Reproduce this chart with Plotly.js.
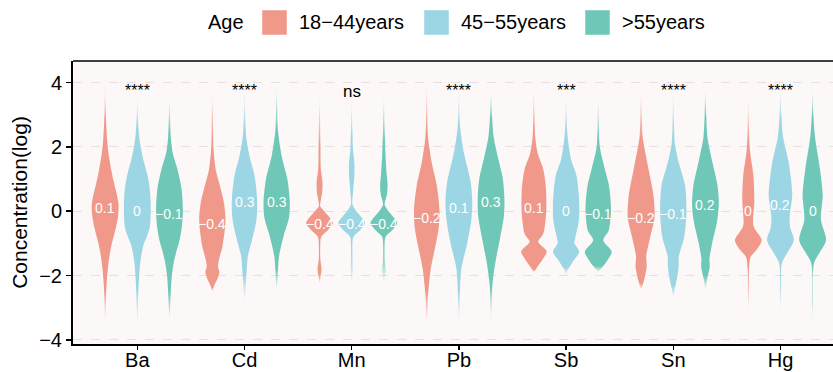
<!DOCTYPE html>
<html><head><meta charset="utf-8">
<script src="https://cdn.plot.ly/plotly-3.0.1.min.js"></script>
<style>html,body{margin:0;padding:0;background:#fff;overflow:hidden;} #chart{width:833px;height:372px;}</style>
</head><body><div id="chart"></div>
<script>
const metals = ['Ba','Cd','Mn','Pb','Sb','Sn','Hg'];
const groups = ['18−44years','45−55years','>55years'];
const signif = ['****','****','ns','****','***','****','****'];
const median1844 = [0.1,-0.4,-0.4,-0.2,0.1,-0.2,0];
const median4555 = [0,0.3,-0.4,0.1,0,-0.1,0.2];
const median55   = [-0.1,0.3,-0.4,0.3,-0.1,0.2,0];

// density profiles per metal: [18-44, 45-55, >55], each a list of [log concentration, relative width]
const densBa = [
  [[4.0,0],[3.3,0.03],[2.8,0.07],[2.2,0.15],[1.8,0.25],[1.3,0.45],[0.9,0.65],[0.5,0.88],[0.2,1.0],[-0.2,0.95],[-0.6,0.75],[-1.0,0.5],[-1.4,0.32],[-1.8,0.2],[-2.3,0.1],[-2.8,0.05],[-3.5,0]],
  [[3.6,0],[3.0,0.04],[2.4,0.12],[2.0,0.25],[1.6,0.45],[1.3,0.65],[1.0,0.82],[0.5,0.97],[0,1.0],[-0.5,0.93],[-0.8,0.7],[-1.0,0.5],[-1.3,0.33],[-1.6,0.22],[-2.0,0.14],[-2.5,0.08],[-3.0,0.04],[-3.7,0]],
  [[3.5,0],[3.0,0.04],[2.3,0.1],[1.8,0.25],[1.3,0.6],[0.7,0.9],[0,1.0],[-0.5,0.92],[-0.9,0.75],[-1.2,0.55],[-1.6,0.32],[-2.0,0.18],[-2.5,0.1],[-3.0,0.05],[-3.4,0]]
];
const densCd = [
  [[3.7,0],[3.0,0.04],[2.0,0.08],[1.3,0.25],[0.8,0.56],[0.3,0.85],[-0.2,0.98],[-0.5,0.95],[-1.1,0.75],[-1.5,0.5],[-1.72,0.42],[-1.9,0.52],[-2.1,0.38],[-2.3,0.15],[-2.5,0]],
  [[3.8,0],[3.0,0.05],[2.3,0.13],[1.7,0.38],[1.1,0.75],[0.3,0.95],[-0.3,0.88],[-1.0,0.5],[-1.4,0.25],[-2.0,0.14],[-2.6,0.05],[-2.8,0]],
  [[3.9,0],[3.2,0.04],[2.5,0.1],[1.7,0.38],[1.0,0.8],[0.3,0.98],[-0.2,0.92],[-0.8,0.5],[-1.4,0.18],[-1.8,0.1],[-2.2,0.05],[-2.45,0]]
];
const densMn = [
  [[3.6,0],[2.8,0.04],[2.0,0.07],[1.3,0.1],[0.9,0.22],[0.6,0.2],[0.35,0.1],[0.15,0.05],[0,0.35],[-0.37,1.0],[-0.6,0.6],[-0.8,0.12],[-1.1,0.05],[-1.5,0.06],[-1.8,0.15],[-2.05,0.07],[-2.25,0]],
  [[3.5,0],[2.6,0.05],[1.9,0.1],[1.5,0.2],[1.1,0.2],[0.6,0.1],[0.2,0.06],[0,0.35],[-0.37,1.0],[-0.6,0.6],[-0.8,0.12],[-1.1,0.05],[-1.8,0.07],[-2.35,0]],
  [[3.6,0],[2.6,0.06],[1.8,0.12],[1.2,0.2],[0.8,0.28],[0.5,0.22],[0.2,0.06],[0,0.35],[-0.37,1.0],[-0.6,0.6],[-0.8,0.12],[-1.1,0.05],[-1.5,0.06],[-1.83,0.13],[-2.05,0.06],[-2.25,0]]
];
const densPb = [
  [[3.9,0],[3.2,0.04],[2.3,0.1],[1.5,0.38],[0.8,0.75],[0.04,0.95],[-0.5,0.9],[-1.0,0.69],[-1.8,0.3],[-2.6,0.1],[-3.2,0.04],[-3.5,0]],
  [[3.8,0],[3.0,0.05],[2.5,0.12],[1.8,0.38],[0.9,0.88],[0.25,1.0],[-0.3,0.92],[-1.0,0.62],[-1.8,0.18],[-2.6,0.07],[-3.2,0.03],[-3.5,0]],
  [[3.7,0],[3.0,0.07],[2.3,0.2],[1.7,0.5],[1.0,0.88],[0.35,1.0],[-0.2,0.95],[-0.8,0.69],[-1.6,0.32],[-2.3,0.1],[-3.0,0.03],[-3.5,0]]
];
const densSb = [
  [[3.9,0],[3.0,0.04],[2.3,0.1],[1.8,0.28],[1.3,0.7],[0.8,0.88],[0,0.92],[-0.7,0.7],[-0.95,0.32],[-1.25,0.95],[-1.52,0.62],[-1.78,0.18],[-1.9,0]],
  [[3.6,0],[3.0,0.04],[2.3,0.12],[1.6,0.38],[1.1,0.78],[0.25,0.98],[-0.3,0.95],[-0.8,0.7],[-1.0,0.62],[-1.26,0.98],[-1.57,0.5],[-1.83,0.12],[-2.0,0]],
  [[3.6,0],[2.8,0.04],[2.0,0.12],[1.3,0.5],[0.8,0.8],[0.05,0.95],[-0.6,0.78],[-0.9,0.38],[-1.26,1.0],[-1.57,0.62],[-1.83,0.12],[-1.9,0]]
];
const densSn = [
  [[3.8,0],[3.0,0.05],[2.3,0.12],[1.3,0.56],[0.5,0.92],[-0.2,1.0],[-0.8,0.68],[-1.4,0.38],[-1.72,0.42],[-2.1,0.25],[-2.45,0]],
  [[3.8,0],[2.8,0.05],[2.1,0.12],[1.5,0.42],[0.8,0.88],[-0.06,0.98],[-0.8,0.82],[-1.4,0.42],[-1.7,0.4],[-2.05,0.3],[-2.4,0.12],[-2.7,0]],
  [[3.8,0],[3.0,0.06],[2.3,0.15],[1.6,0.48],[0.8,0.9],[0.25,1.0],[-0.3,0.88],[-1.0,0.5],[-1.5,0.3],[-1.72,0.32],[-2.1,0.13],[-2.45,0]]
];
const densHg = [
  [[3.6,0],[2.8,0.04],[1.9,0.12],[1.1,0.38],[0.3,0.45],[-0.45,0.38],[-0.9,1.0],[-1.2,0.62],[-1.42,0.18],[-1.8,0.05],[-2.5,0.03],[-3.2,0]],
  [[3.8,0],[3.0,0.06],[2.3,0.2],[1.5,0.62],[0.5,0.88],[-0.17,0.68],[-0.5,0.72],[-0.9,1.0],[-1.3,0.5],[-1.62,0.1],[-2.5,0.04],[-3.2,0]],
  [[3.8,0],[3.0,0.06],[2.3,0.18],[1.3,0.55],[0.5,0.75],[-0.27,0.62],[-0.9,1.0],[-1.3,0.5],[-1.62,0.1],[-2.8,0.03],[-3.5,0]]
];

const fillRGB = ['240,153,139','156,214,228','111,200,183'];
const HALF = 0.125, OFF = [-0.3, 0, 0.3];
const dens = [densBa, densCd, densMn, densPb, densSb, densSn, densHg];
const medians = [median1844, median4555, median55];
const FONT = 'Liberation Sans, Arial, sans-serif';

const traces = [];
const annotations = [];
const fmt = v => (v < 0 ? '\u2212' + Math.abs(v) : String(v));

dens.forEach((prof3, i) => prof3.forEach((p, g) => {
  const asc = p.slice().sort((a, b) => a[0] - b[0]);
  const cx = i + OFF[g];
  const xs = [], ys = [];
  asc.forEach(([y, w]) => { xs.push(cx + w * HALF); ys.push(y); });
  for (let k = asc.length - 2; k >= 1; k--) { xs.push(cx - asc[k][1] * HALF); ys.push(asc[k][0]); }
  const ymin = asc[0][0], ymax = asc[asc.length - 1][0], R = ymax - ymin;
  const kb = asc.findIndex(q => q[1] >= 0.15);
  let kt = asc.length - 1; while (kt > 0 && asc[kt][1] < 0.15) kt--;
  const fb = 0.6 * (asc[kb][0] - ymin), ft = 0.6 * (ymax - asc[kt][0]);
  const c = fillRGB[g];
  traces.push({
    type: 'scatter', x: xs, y: ys, mode: 'lines', fill: 'toself',
    line: {width: 0, shape: 'spline', smoothing: 0.8, color: 'rgba(0,0,0,0)'},
    fillcolor: 'rgb(' + c + ')',
    fillgradient: {type: 'vertical', start: ymin, stop: ymax,
      colorscale: [[0, `rgba(${c},0.03)`], [Math.max(0.001, fb / R), `rgba(${c},1)`], [Math.min(0.999, 1 - ft / R), `rgba(${c},1)`], [1, `rgba(${c},0.03)`]]},
    hoverinfo: 'skip', showlegend: false
  });
  annotations.push({x: cx, y: medians[g][i], xref: 'x', yref: 'y', text: fmt(medians[g][i]), showarrow: false,
    font: {family: FONT, size: 14, color: '#ffffff'}});
}));

metals.forEach((m, i) => {
  const isNs = signif[i] === 'ns';
  annotations.push({x: i, y: isNs ? 3.72 : 3.75, xref: 'x', yref: 'y', text: signif[i], showarrow: false,
    font: {family: FONT, size: isNs ? 17 : 16, color: '#000'}});
});

// manual legend (pixel layout helpers)
const L = 73, T = 61, W = 760, HGT = 283;
const px = v => (v - L) / W, py = v => (T + HGT - v) / HGT;
const shapes = [
  {type: 'line', xref: 'paper', yref: 'paper', x0: 0, x1: 1, y0: 1, y1: 1, line: {color: '#000', width: 1.6}}
];
annotations.push({xref: 'paper', yref: 'paper', x: px(246), y: py(22), xanchor: 'right', yanchor: 'middle', text: 'Age', showarrow: false,
  font: {family: FONT, size: 20, color: '#000'}});
const boxX = [262, 424, 585];
groups.forEach((gname, g) => {
  shapes.push({type: 'rect', xref: 'paper', yref: 'paper', x0: px(boxX[g]), x1: px(boxX[g] + 25), y0: py(35), y1: py(10),
    fillcolor: 'rgb(' + fillRGB[g] + ')', line: {width: 0.8, color: 'rgba(255,255,255,0.6)'}});
  annotations.push({xref: 'paper', yref: 'paper', x: px(boxX[g] + 35), y: py(22), xanchor: 'left', yanchor: 'middle', text: gname, showarrow: false,
    font: {family: FONT, size: 20, color: '#000'}});
});

const layout = {
  width: 833, height: 372,
  margin: {l: L, r: 833 - L - W, t: T, b: 372 - T - HGT, pad: 0},
  paper_bgcolor: '#ffffff', plot_bgcolor: '#FCF8F7',
  showlegend: false,
  font: {family: FONT, color: '#000'},
  xaxis: {range: [-0.6, 6.49], tickvals: [0,1,2,3,4,5,6], ticktext: metals, showgrid: false, zeroline: false,
    showline: true, linecolor: '#000', linewidth: 2, ticks: 'outside', ticklen: 4, tickwidth: 1.5, tickcolor: '#000',
    tickfont: {size: 20, color: '#000'}, ticklabelstandoff: -7, automargin: false, fixedrange: true},
  yaxis: {range: [-4.13, 4.67], tickvals: [-4,-2,0,2,4], zeroline: false, showgrid: true, gridcolor: '#E2D9D7', gridwidth: 0.8, griddash: 'dash',
    showline: true, linecolor: '#000', linewidth: 2, ticks: 'outside', ticklen: 5, tickwidth: 1.5, tickcolor: '#000',
    tickfont: {size: 20, color: '#000'}, automargin: false,
    title: {text: 'Concentration(log)', font: {size: 21, color: '#000'}, standoff: 6}},
  shapes: shapes,
  annotations: annotations
};
Plotly.newPlot('chart', traces, layout, {staticPlot: true, displayModeBar: false});
</script></body></html>
